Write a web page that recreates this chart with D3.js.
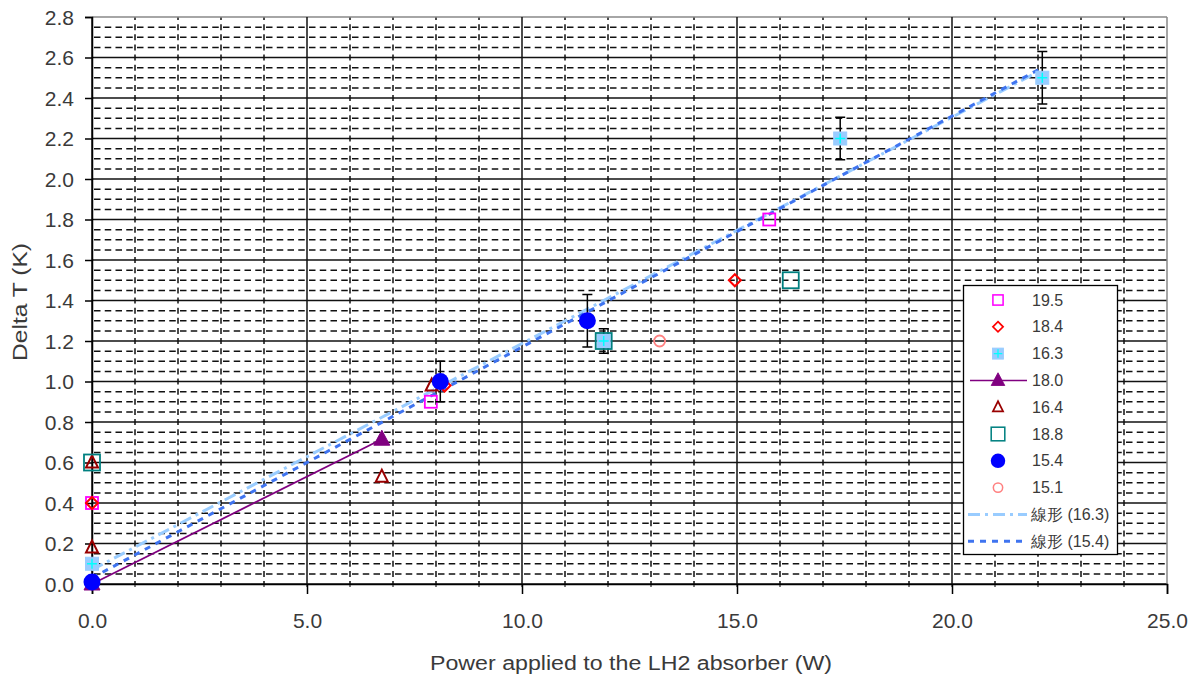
<!DOCTYPE html>
<html>
<head>
<meta charset="utf-8">
<script src="https://cdn.jsdelivr.net/npm/d3@7"></script>
<style>
  body { margin: 0; background: #fff; }
  svg { font-family: "Liberation Sans", Arial, sans-serif; }
</style>
</head>
<body>
<svg width="1191" height="677"></svg>
<script>
// series: [x, y, err]
const s195 = [[0, 0.40, 0], [7.88, 0.90, 0], [15.75, 1.80, 0]]
const s184 = [[0, 0.40, 0], [8.2, 0.98, 0], [14.95, 1.50, 0]]
const s163 = [[0, 0.10, 0], [11.9, 1.20, 0.06], [17.4, 2.20, 0.105], [22.1, 2.50, 0.13]]
const s180 = [[0, 0.0, 0], [6.74, 0.715, 0]]
const s164 = [[0, 0.18, 0], [0, 0.60, 0], [6.74, 0.53, 0], [7.9, 0.98, 0]]
const s188 = [[0, 0.60, 0], [11.9, 1.20, 0], [16.25, 1.50, 0]]
const s154 = [[0, 0.01, 0], [8.1, 1.00, 0.1], [11.52, 1.30, 0.13]]
const s151 = [[13.2, 1.20, 0]]
const trend163 = [[0, 0.07], [22.1, 2.54]]
const trend154 = [[0, 0.03], [22.1, 2.55]]

const xTicks = [0, 5, 10, 15, 20, 25]
const yTicks = d3.range(0, 2.81, 0.2)
const legendLabels = ['19.5', '18.4', '16.3', '18.0', '16.4', '18.8', '15.4', '15.1', '線形 (16.3)', '線形 (15.4)']

const svg = d3.select('svg')
const x = d3.scaleLinear().domain([0, 25]).range([92, 1167])
const y = d3.scaleLinear().domain([0, 2.8]).range([584, 17])

const grid = svg.append('g')
// minor horizontal dashed
d3.range(0, 2.8001, 0.05).forEach((v, i) => {
  if (i % 4 == 0) return
  grid.append('line').attr('x1', x(0)).attr('x2', x(25)).attr('y1', y(v)).attr('y2', y(v))
    .attr('stroke', '#111').attr('stroke-width', 1.5).attr('stroke-dasharray', '6.5,4.25').attr('stroke-dashoffset', -2)
})
// minor vertical dashed
d3.range(1, 25).forEach(v => {
  if (v % 5 == 0) return
  grid.append('line').attr('x1', x(v)).attr('x2', x(v)).attr('y1', y(0)).attr('y2', y(2.8))
    .attr('stroke', '#111').attr('stroke-width', 1.5).attr('stroke-dasharray', '6,4.125').attr('stroke-dashoffset', 3)
})
// major solid
yTicks.forEach(v => {
  grid.append('line').attr('x1', x(0)).attr('x2', x(25)).attr('y1', y(v)).attr('y2', y(v))
    .attr('stroke', v > 2.79 ? '#888' : '#111').attr('stroke-width', 1.5)
})
xTicks.forEach(v => {
  grid.append('line').attr('x1', x(v)).attr('x2', x(v)).attr('y1', y(0)).attr('y2', y(2.8))
    .attr('stroke', v == 25 ? '#888' : '#111').attr('stroke-width', 1.5)
})

// axes
const xAxis = svg.append('g').attr('transform', `translate(0,${y(0)})`)
  .call(d3.axisBottom(x).tickValues(xTicks).tickFormat(d3.format('.1f')).tickSize(10).tickPadding(19))
const yAxis = svg.append('g').attr('transform', `translate(${x(0)},0)`)
  .call(d3.axisLeft(y).tickValues(yTicks).tickFormat(d3.format('.1f')).tickSize(7).tickPadding(11))
;[xAxis, yAxis].forEach(a => {
  a.select('.domain').attr('stroke', '#000').attr('stroke-width', 1.5)
  a.selectAll('line').attr('stroke', '#000').attr('stroke-width', 1.5)
  a.selectAll('text').attr('font-size', 21).attr('fill', '#3a3a3a').attr('font-family', '"Liberation Sans", Arial, sans-serif')
})
yAxis.selectAll('text').attr('dy', '0.35em')
svg.append('g').selectAll('line').data(d3.range(1, 25)).enter().append('line')
  .attr('x1', d => x(d)).attr('x2', d => x(d)).attr('y1', y(0)).attr('y2', y(0) + 3)
  .attr('stroke', '#000')

svg.append('text').attr('x', 631).attr('y', 670).attr('text-anchor', 'middle')
  .attr('font-size', 20).attr('fill', '#3a3a3a')
  .attr('textLength', 402).attr('lengthAdjust', 'spacingAndGlyphs')
  .text('Power applied to the LH2 absorber (W)')
svg.append('text').attr('transform', 'translate(27,302) rotate(-90)').attr('text-anchor', 'middle')
  .attr('font-size', 21).attr('fill', '#3a3a3a')
  .attr('textLength', 118).attr('lengthAdjust', 'spacingAndGlyphs')
  .text('Delta T (K)')

// trend lines
const line = d3.line().x(d => x(d[0])).y(d => y(d[1]))
const trendStyles = [
  { data: trend163, color: '#99CCFF', dash: '12,5,3,5', w: 3 },
  { data: trend154, color: '#3F74F0', dash: '6,6', w: 3 }
]
trendStyles.forEach(t => {
  svg.append('path').attr('d', line(t.data)).attr('fill', 'none')
    .attr('stroke', t.color).attr('stroke-width', t.w).attr('stroke-dasharray', t.dash)
})

// marker drawing
function marker(g, type, cx, cy) {
  if (type == 'sqOpen') g.append('rect').attr('x', cx - 6).attr('y', cy - 6).attr('width', 12).attr('height', 12)
    .attr('fill', 'none').attr('stroke', '#FF00FF').attr('stroke-width', 1.8)
  if (type == 'diamond') g.append('path').attr('d', `M${cx},${cy - 6}L${cx + 6},${cy}L${cx},${cy + 6}L${cx - 6},${cy}Z`)
    .attr('fill', 'none').attr('stroke', '#FF0000').attr('stroke-width', 2)
  if (type == 'sqFill') {
    g.append('rect').attr('x', cx - 6.5).attr('y', cy - 6.5).attr('width', 13).attr('height', 13)
      .attr('fill', '#99CCFF').attr('stroke', '#99CCFF')
    g.append('path').attr('d', `M${cx - 5},${cy}H${cx + 5}M${cx},${cy - 5}V${cy + 5}`)
      .attr('stroke', '#00FFFF').attr('stroke-width', 1.5)
  }
  if (type == 'triFill') g.append('path').attr('d', `M${cx},${cy - 9}L${cx + 8},${cy + 6}L${cx - 8},${cy + 6}Z`)
    .attr('fill', '#800080').attr('stroke', '#800080')
  if (type == 'triOpen') g.append('path').attr('d', `M${cx},${cy - 7}L${cx + 6},${cy + 5}L${cx - 6},${cy + 5}Z`)
    .attr('fill', 'none').attr('stroke', '#990000').attr('stroke-width', 2)
  if (type == 'sqTeal') g.append('rect').attr('x', cx - 8).attr('y', cy - 8).attr('width', 16).attr('height', 16)
    .attr('fill', 'none').attr('stroke', '#008080').attr('stroke-width', 1.8)
  if (type == 'circFill') g.append('circle').attr('cx', cx).attr('cy', cy).attr('r', 8.5).attr('fill', '#0000FF')
  if (type == 'circOpen') g.append('circle').attr('cx', cx).attr('cy', cy).attr('r', 5.5)
    .attr('fill', 'none').attr('stroke', '#FF8080').attr('stroke-width', 1.8)
}

const series = [
  { data: s195, type: 'sqOpen' },
  { data: s184, type: 'diamond' },
  { data: s163, type: 'sqFill' },
  { data: s180, type: 'triFill', line: '#800080' },
  { data: s164, type: 'triOpen' },
  { data: s188, type: 'sqTeal' },
  { data: s154, type: 'circFill' },
  { data: s151, type: 'circOpen' }
]

const pts = svg.append('g')
series.forEach(s => {
  const g = pts.append('g')
  if (s.line) g.append('path').attr('d', line(s.data)).attr('fill', 'none').attr('stroke', s.line).attr('stroke-width', 1.8)
  s.data.forEach(d => {
    if (d[2] > 0) {
      const cx = x(d[0])
      g.append('path').attr('d', `M${cx},${y(d[1] - d[2])}V${y(d[1] + d[2])}M${cx - 5},${y(d[1] + d[2])}H${cx + 5}M${cx - 5},${y(d[1] - d[2])}H${cx + 5}`)
        .attr('stroke', '#000').attr('stroke-width', 1.5).attr('fill', 'none')
    }
    marker(g, s.type, x(d[0]), y(d[1]))
  })
})

// legend
const lg = svg.append('g')
lg.append('rect').attr('x', 963.5).attr('y', 285.5).attr('width', 154).attr('height', 269)
  .attr('fill', '#fff').attr('stroke', '#000').attr('stroke-width', 1.3)
legendLabels.forEach((lab, i) => {
  const cy = 300 + i * 26.8
  if (i < 8) {
    if (series[i].line) lg.append('line').attr('x1', 970).attr('x2', 1027).attr('y1', cy).attr('y2', cy)
      .attr('stroke', series[i].line).attr('stroke-width', 1.5)
    const g = lg.append('g').attr('transform', `translate(998,${cy}) scale(0.85) translate(-998,${-cy})`)
    marker(g, series[i].type, 998, cy)
  } else {
    const t = trendStyles[i - 8]
    lg.append('line').attr('x1', 968).attr('x2', 1027).attr('y1', cy).attr('y2', cy)
      .attr('stroke', t.color).attr('stroke-width', t.w).attr('stroke-dasharray', t.dash)
  }
  lg.append('text').attr('x', i < 8 ? 1032 : 1031).attr('y', cy).attr('dy', '0.35em')
    .attr('font-size', 16).attr('fill', '#3a3a3a').text(lab)
})
</script>
</body>
</html>
